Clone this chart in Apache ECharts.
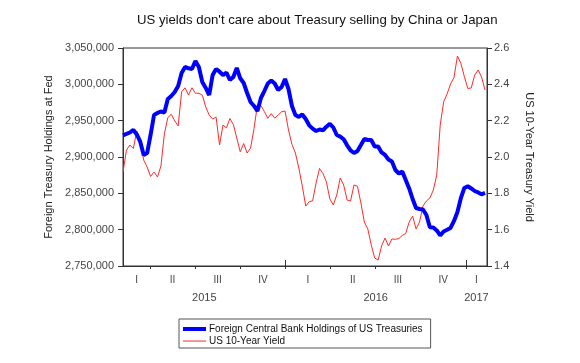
<!DOCTYPE html>
<html><head><meta charset="utf-8">
<script src="https://cdn.jsdelivr.net/npm/echarts@6/dist/echarts.min.js"></script>
<style>html,body{margin:0;padding:0;background:#fff}#c{width:580px;height:363px}</style>
</head><body><div id="c"></div>
<script>
// weekly observations starting at this date
var startDate = '2015-02-05';
var holdings = [2929.9,2931.7,2933.7,2937.4,2931.0,2921.1,2902.8,2905.5,2930.3,2957.8,
2960.6,2962.6,2961.2,2979.8,2984.0,2989.5,2997.7,3015.6,3023.9,3022.1,
3021.1,3032.1,3023.9,3003.2,2995.0,2985.3,3012.8,3021.1,3017.4,3012.8,
3016.3,3006.0,3010.1,3022.5,3008.3,3001.8,2988.1,2975.7,2970.2,2963.3,
2981.2,2990.8,3001.2,3005.3,3001.2,2992.2,2996.3,3007.3,2993.6,2970.2,
2957.8,2955.1,2958.5,2952.3,2943.6,2939.0,2935.8,2937.9,2936.8,2941.7,
2945.7,2940.6,2930.3,2928.1,2924.4,2916.1,2909.0,2905.5,2908.3,2916.5,
2924.8,2923.4,2923.4,2914.5,2914.5,2906.2,2902.8,2896.6,2893.8,2882.1,
2877.3,2880.1,2868.4,2856.7,2842.2,2829.8,2828.5,2827.8,2820.2,2803.3,
2803.0,2798.9,2792.0,2797.5,2799.8,2802.3,2812.0,2824.3,2843.6,2857.4,
2859.8,2856.7,2853.2,2851.2,2848.7,2850.5];
var yields = [1.917,2.038,2.066,2.047,2.143,2.084,1.983,1.945,1.893,1.917,
1.890,1.950,2.127,2.217,2.235,2.199,2.171,2.359,2.381,2.341,
2.381,2.351,2.351,2.341,2.275,2.231,2.209,2.220,2.066,2.176,
2.160,2.212,2.179,2.105,2.029,2.074,2.022,2.049,2.157,2.288,
2.283,2.250,2.213,2.239,2.214,2.231,2.249,2.253,2.149,2.069,
2.022,1.939,1.840,1.730,1.754,1.759,1.857,1.937,1.909,1.862,
1.769,1.736,1.791,1.884,1.846,1.763,1.758,1.846,1.839,1.747,
1.642,1.604,1.516,1.444,1.433,1.510,1.554,1.510,1.549,1.547,
1.551,1.568,1.579,1.642,1.675,1.604,1.642,1.730,1.758,1.774,
1.818,1.901,2.176,2.303,2.347,2.402,2.438,2.556,2.515,2.443,
2.377,2.380,2.451,2.479,2.440,2.369];
var quarterNames = ['I','II','III','IV'];
var years = [2015, 2016, 2017];
var leftTicks = {min: 2750000, max: 3050000, step: 50000};
var rightTicks = {min: 1.4, max: 2.6, step: 0.2};
var xRange = {min: '2015-02-05', max: '2017-02-13'};

var BASE = Date.UTC(2015,0,1);
function dayOf(s){var p=s.split('-');return (Date.UTC(+p[0],+p[1]-1,+p[2])-BASE)/86400000;}
function dayOfYM(y,m){return (Date.UTC(y,m,1)-BASE)/86400000;}
var x0 = dayOf(startDate);
var xMin = dayOf(xRange.min), xMax = dayOf(xRange.max);
var blueData = holdings.map(function(v,i){return [x0+7*i, v*1000];});
var redData = yields.map(function(v,i){return [x0+7*i, v];});

// quarter boundaries and label centres
var qStarts = [], qLabels = [], qLabelText = {};
years.forEach(function(y){ for(var q=0;q<4;q++){ var s=dayOfYM(y,q*3), e=dayOfYM(y,q*3+3);
  if (e<=xMin || s>=xMax) continue;
  if (s>xMin) qStarts.push(s);
  var c=(Math.max(s,xMin)+Math.min(e,xMax))/2; qLabels.push(c); qLabelText[c]=quarterNames[q]; }});
var yStarts=[], yLabels=[], yLabelText={};
years.forEach(function(y){ var s=dayOfYM(y,0), e=dayOfYM(y+1,0);
  if (s>xMin) yStarts.push(s);
  var c=(Math.max(s,xMin)+Math.min(e,xMax))/2; yLabels.push(c); yLabelText[c]=String(y); });

var FONT = "'Liberation Sans', Arial, sans-serif";
var AX = '#333';
var chart = echarts.init(document.getElementById('c'), null, {renderer:'canvas'});
chart.setOption({
  animation:false,
  backgroundColor:'#fff',
  textStyle:{fontFamily:FONT},
  title:{text:"US yields don't care about Treasury selling by China or Japan", left:132, top:9,
    textStyle:{fontFamily:FONT, fontSize:13.2, fontWeight:'normal', color:'#111'}},
  grid:{left:123, right:93, top:48, bottom:97, show:true, borderColor:AX, borderWidth:1},
  legend:{orient:'vertical', left:179, top:319, itemWidth:23, itemHeight:4, itemGap:2,
    padding:[5,8,2,4], borderColor:'#555', borderWidth:1, backgroundColor:'#fff',
    itemStyle:{borderWidth:0},
    textStyle:{fontFamily:FONT, fontSize:10, color:'#111', padding:[0,0,0,-2]},
    data:[{name:'Foreign Central Bank Holdings of US Treasuries', icon:'path://M0,0L23,0L23,4L0,4Z'},
          {name:'US 10-Year Yield', icon:'path://M0,0M0,1.5L23,1.5L23,2.6L0,2.6ZM23,4'}]},
  xAxis:[{type:'value', min:xMin, max:xMax, position:'bottom',
      axisLine:{lineStyle:{color:AX}}, splitLine:{show:false},
      axisTick:{customValues:qStarts, length:3, lineStyle:{color:AX}},
      axisLabel:{customValues:qLabels, margin:9, fontSize:10, color:'#444', fontFamily:FONT,
        formatter:function(v){return qLabelText[v]||'';}}},
    {type:'value', min:xMin, max:xMax, position:'bottom',
      axisLine:{show:false}, splitLine:{show:false},
      axisTick:{customValues:yStarts, length:6, inside:true, lineStyle:{color:AX}},
      axisLabel:{customValues:yLabels, margin:26, fontSize:11, color:'#444', fontFamily:FONT,
        formatter:function(v){return yLabelText[v]||'';}}}],
  yAxis:[{type:'value', min:leftTicks.min, max:leftTicks.max, interval:leftTicks.step, position:'left',
      name:'Foreign Treasury Holdings at Fed', nameLocation:'middle', nameGap:68, nameRotate:90,
      nameTextStyle:{fontFamily:FONT, fontSize:11, color:'#222'},
      axisLine:{show:true, lineStyle:{color:AX}}, axisTick:{show:true, length:5, lineStyle:{color:AX}},
      splitLine:{show:false},
      axisLabel:{margin:9, fontSize:11, color:'#444', fontFamily:FONT,
        formatter:function(v){return v.toLocaleString('en-US');}}},
    {type:'value', min:rightTicks.min, max:rightTicks.max, interval:rightTicks.step, position:'right',
      name:'US 10-Year Treasury Yield', nameLocation:'middle', nameGap:37, nameRotate:-90,
      nameTextStyle:{fontFamily:FONT, fontSize:11, color:'#222'},
      axisLine:{show:true, lineStyle:{color:AX}}, axisTick:{show:true, length:5, lineStyle:{color:AX}},
      splitLine:{show:false},
      axisLabel:{margin:7, fontSize:11, color:'#444', fontFamily:FONT,
        formatter:function(v){return v.toFixed(1);}}}],
  series:[
    {name:'Foreign Central Bank Holdings of US Treasuries', type:'line', yAxisIndex:0, xAxisIndex:0,
      data:blueData, symbol:'none', z:3, lineStyle:{color:'#0000ff', width:4}, itemStyle:{color:'#0000ff'}},
    {name:'US 10-Year Yield', type:'line', yAxisIndex:1, xAxisIndex:0,
      data:redData, symbol:'none', z:2, lineStyle:{color:'#ff2a2a', width:1}, itemStyle:{color:'#ff3a3a'}}
  ]
});
</script></body></html>
